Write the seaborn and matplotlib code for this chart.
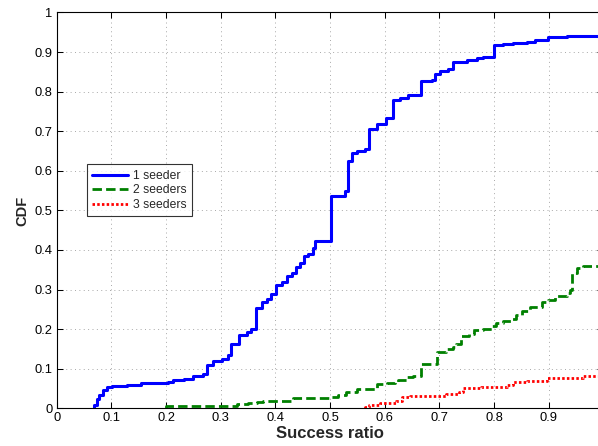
import numpy as np
import pandas as pd
import matplotlib
matplotlib.use("Agg")
import matplotlib.pyplot as plt
import seaborn as sns

# Empirical CDF step points: x where each step occurs, y after the step
one_x = [0.069, 0.069, 0.073, 0.078, 0.084, 0.0915, 0.1006, 0.128, 0.155, 0.204,
         0.213, 0.232, 0.250, 0.268, 0.275, 0.285, 0.302, 0.313, 0.319, 0.334,
         0.349, 0.355, 0.364, 0.376, 0.384, 0.392, 0.401, 0.412, 0.422, 0.431,
         0.437, 0.445, 0.453, 0.460, 0.468, 0.4725, 0.501, 0.527, 0.533, 0.540,
         0.549, 0.564, 0.571, 0.585, 0.602, 0.615, 0.628, 0.643, 0.667, 0.686,
         0.692, 0.701, 0.716, 0.725, 0.750, 0.768, 0.780, 0.800, 0.817, 0.834,
         0.860, 0.875, 0.899, 0.933, 1.0]
one_y = [0.0, 0.008, 0.023, 0.034, 0.045, 0.053, 0.0565, 0.059, 0.063, 0.0667,
         0.0717, 0.075, 0.082, 0.087, 0.110, 0.120, 0.124, 0.135, 0.162, 0.184,
         0.194, 0.201, 0.253, 0.268, 0.277, 0.289, 0.311, 0.318, 0.333, 0.342,
         0.356, 0.367, 0.384, 0.390, 0.405, 0.422, 0.537, 0.549, 0.624, 0.644,
         0.650, 0.654, 0.706, 0.719, 0.734, 0.779, 0.783, 0.792, 0.827, 0.830,
         0.845, 0.851, 0.857, 0.874, 0.880, 0.885, 0.888, 0.918, 0.921, 0.924,
         0.925, 0.931, 0.939, 0.941, 0.941]

two_x = [0.200, 0.200, 0.329, 0.350, 0.366, 0.378, 0.396, 0.433, 0.500, 0.515,
         0.530, 0.550, 0.586, 0.604, 0.619, 0.625, 0.640, 0.652, 0.666, 0.695,
         0.713, 0.725, 0.730, 0.739, 0.755, 0.763, 0.780, 0.797, 0.803, 0.816,
         0.832, 0.841, 0.851, 0.866, 0.887, 0.899, 0.911, 0.933, 0.939, 0.942,
         0.951, 0.963, 1.0]
two_y = [0.0, 0.0067, 0.010, 0.0125, 0.015, 0.0175, 0.018, 0.027, 0.029, 0.034,
         0.042, 0.050, 0.061, 0.063, 0.066, 0.072, 0.078, 0.082, 0.111, 0.143,
         0.150, 0.156, 0.163, 0.183, 0.187, 0.197, 0.200, 0.208, 0.215, 0.221,
         0.226, 0.236, 0.245, 0.255, 0.268, 0.274, 0.283, 0.291, 0.300, 0.342,
         0.354, 0.360, 0.360]

three_x = [0.564, 0.564, 0.572, 0.591, 0.621, 0.631, 0.646, 0.713, 0.735, 0.744,
           0.777, 0.823, 0.835, 0.860, 0.896, 0.963, 1.0]
three_y = [0.0, 0.003, 0.0084, 0.0143, 0.0194, 0.0295, 0.032, 0.0354, 0.0405, 0.052,
           0.055, 0.059, 0.0675, 0.069, 0.0776, 0.082, 0.082]

labels = ["1 seeder", "2 seeders", "3 seeders"]
x_tick_vals = [0, 0.1, 0.2, 0.3, 0.4, 0.5, 0.6, 0.7, 0.8, 0.9]
x_tick_text = ["0", "0.1", "0.2", "0.3", "0.4", "0.5", "0.6", "0.7", "0.8", "0.9"]
y_tick_vals = [0, 0.1, 0.2, 0.3, 0.4, 0.5, 0.6, 0.7, 0.8, 0.9, 1.0]
y_tick_text = ["0", "0.1", "0.2", "0.3", "0.4", "0.5", "0.6", "0.7", "0.8", "0.9", "1"]

sns.set_theme(style="ticks")
plt.rcParams["font.family"] = ["Liberation Sans", "DejaVu Sans"]

fig = plt.figure(figsize=(5.98, 4.46), dpi=100)
W, H = 598.0, 446.0
ax = fig.add_axes([56.7 / W, 1 - 408.3 / H, 546.7 / W, (408.3 - 12.5) / H])

styles = [
    dict(color="#0000ff", lw=2.2, linestyle="-"),
    dict(color="#008000", lw=2.0, dashes=(3.4, 1.5)),
    dict(color="#ff0000", lw=2.0, dashes=(0.9, 0.8)),
]
series = [(one_x, one_y), (two_x, two_y), (three_x, three_y)]
for (xs, ys), lab, st in zip(series, labels, styles):
    df = pd.DataFrame({"ratio": xs, "cdf": ys})
    sns.lineplot(data=df, x="ratio", y="cdf", ax=ax, estimator=None, sort=False,
                 drawstyle="steps-post", label=lab, **st)

ax.set_xlim(0, 1)
ax.set_ylim(0, 1)
ax.set_xticks(x_tick_vals)
ax.set_xticklabels(x_tick_text)
ax.set_yticks(y_tick_vals)
ax.set_yticklabels(y_tick_text)
ax.grid(True, linestyle=(0, (1, 3.5)), color="#a8a8a8", linewidth=0.7)
ax.tick_params(direction="in", top=True, right=True, length=4, width=0.75,
               labelsize=9.3, pad=3, colors="black")
for sp in ax.spines.values():
    sp.set_color("black")
    sp.set_linewidth(0.8)

ax.set_xlabel("Success ratio", fontsize=12, fontweight="bold")
ax.set_ylabel("CDF", fontsize=10.5, fontweight="bold")
ax.xaxis.set_label_coords(0.5, -0.044)
ax.yaxis.set_label_coords(-0.050, 0.5)

leg = ax.legend(loc="upper left", bbox_to_anchor=(0.0548, 0.616), borderaxespad=0,
                fontsize=8.7, frameon=True, fancybox=False, edgecolor="black",
                handlelength=3.0, handletextpad=0.4, labelspacing=0.2, borderpad=0.45)
leg.get_frame().set_linewidth(0.8)

fig.savefig("out.png", dpi=100)
